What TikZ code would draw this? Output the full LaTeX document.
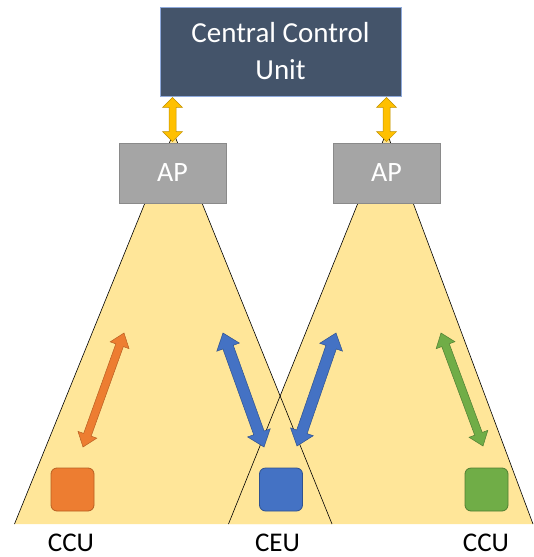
\documentclass[tikz,border=0pt]{standalone}
\usepackage{fontspec}
\setmainfont{Carlito}
\usetikzlibrary{calc}
\definecolor{ccubg}{HTML}{44546A}
\definecolor{cculine}{HTML}{8FAADC}
\definecolor{apbg}{HTML}{A5A5A5}
\definecolor{apline}{HTML}{8A8A8A}
\definecolor{cone}{HTML}{FFE699}
\definecolor{gold}{HTML}{FFC000}
\definecolor{goldd}{HTML}{C09000}
\definecolor{orng}{HTML}{ED7D31}
\definecolor{orngd}{HTML}{B85F22}
\definecolor{blu}{HTML}{4472C4}
\definecolor{blud}{HTML}{2F528F}
\definecolor{grn}{HTML}{70AD47}
\definecolor{grnd}{HTML}{507E32}
\newcommand\blkarrow[6]{%
\path[#1] (#2) -- ($(#2)!#4!(#3)!#5!90:(#3)$) -- ($(#2)!#4!(#3)!#6!90:(#3)$) -- ($(#3)!#4!(#2)!#6!-90:(#2)$) -- ($(#3)!#4!(#2)!#5!-90:(#2)$) -- (#3) -- ($(#3)!#4!(#2)!#5!90:(#2)$) -- ($(#3)!#4!(#2)!#6!90:(#2)$) -- ($(#2)!#4!(#3)!#6!-90:(#3)$) -- ($(#2)!#4!(#3)!#5!-90:(#3)$) -- cycle;}
\tikzset{
  ctrlbox/.style={fill=ccubg,draw=cculine,line width=0.8pt,minimum width=241pt,minimum height=89pt,inner sep=0pt,text=white,align=center,font=\fontsize{29}{37}\selectfont},
  apbox/.style={fill=apbg,draw=apline,line width=0.8pt,minimum width=107pt,minimum height=60pt,inner sep=0pt,text=white,font=\fontsize{28}{32}\selectfont},
  dev/.style={minimum size=43pt,inner sep=0pt,rounded corners=6pt,line width=0.8pt},
  lbl/.style={font=\fontsize{27}{30}\selectfont,inner sep=0pt},
  conefill/.style={fill=cone},
  coneedge/.style={draw=black,line width=0.6pt},
}
\begin{document}
\begin{tikzpicture}[x=1pt,y=-1pt]
\useasboundingbox (0,0) rectangle (534,557);
% cones
\coordinate (lapex) at (173.5,132.7);
\coordinate (lbl1) at (14.5,524);
\coordinate (lbr1) at (332,524);
\coordinate (rapex) at (386.6,132);
\coordinate (rbl1) at (228.5,524);
\coordinate (rbr1) at (533,524);
\fill[conefill] (lapex) -- (lbl1) -- (lbr1) -- cycle;
\fill[conefill] (rapex) -- (rbl1) -- (rbr1) -- cycle;
\draw[coneedge] (lbl1) -- (lapex) -- (lbr1);
\draw[coneedge] (rbl1) -- (rapex) -- (rbr1);
% boxes
\node[ctrlbox] (ctrl) at (280.5,51.5) {Central Control\\Unit};
\node[apbox] (apL) at (172.5,173) {AP};
\node[apbox] (apR) at (386.5,173) {AP};
% yellow arrows
\coordinate (yl1) at ($(ctrl.south -| apL.north)+(0,1)$);
\coordinate (yl2) at ($(apL.north)+(0,-1)$);
\coordinate (yr1) at ($(ctrl.south -| apR.north)+(0,1)$);
\coordinate (yr2) at ($(apR.north)+(0,-1)$);
\blkarrow{fill=gold,draw=goldd,line width=0.5pt}{yl1}{yl2}{10pt}{10pt}{3.5pt}
\blkarrow{fill=gold,draw=goldd,line width=0.5pt}{yr1}{yr2}{10pt}{10pt}{3.5pt}
% devices
\node[dev,fill=orng,draw=orngd] (ccuL) at (72.5,489.5) {};
\node[dev,fill=blu,draw=blud] (ceu) at (281,489.5) {};
\node[dev,fill=grn,draw=grnd] (ccuR) at (486.5,489.5) {};
\node[lbl] (tL) at (71,543) {CCU};
\node[lbl] (tC) at (277.5,543) {CEU};
\node[lbl] (tR) at (486,543) {CCU};
% link arrows
\coordinate (o1) at (124,333);
\coordinate (o2) at (83,447);
\coordinate (b1) at (223,333);
\coordinate (b2) at (264,447);
\coordinate (b3) at (336,333);
\coordinate (b4) at (297,446);
\coordinate (g1) at (441,333);
\coordinate (g2) at (483,446);
\blkarrow{fill=orng,draw=orngd,line width=0.5pt}{o1}{o2}{13pt}{10pt}{4pt}
\blkarrow{fill=blu,draw=blud,line width=0.5pt}{b1}{b2}{15pt}{12pt}{5.5pt}
\blkarrow{fill=blu,draw=blud,line width=0.5pt}{b3}{b4}{15pt}{12pt}{5.5pt}
\blkarrow{fill=grn,draw=grnd,line width=0.5pt}{g1}{g2}{13pt}{10pt}{4pt}
\end{tikzpicture}
\end{document}
